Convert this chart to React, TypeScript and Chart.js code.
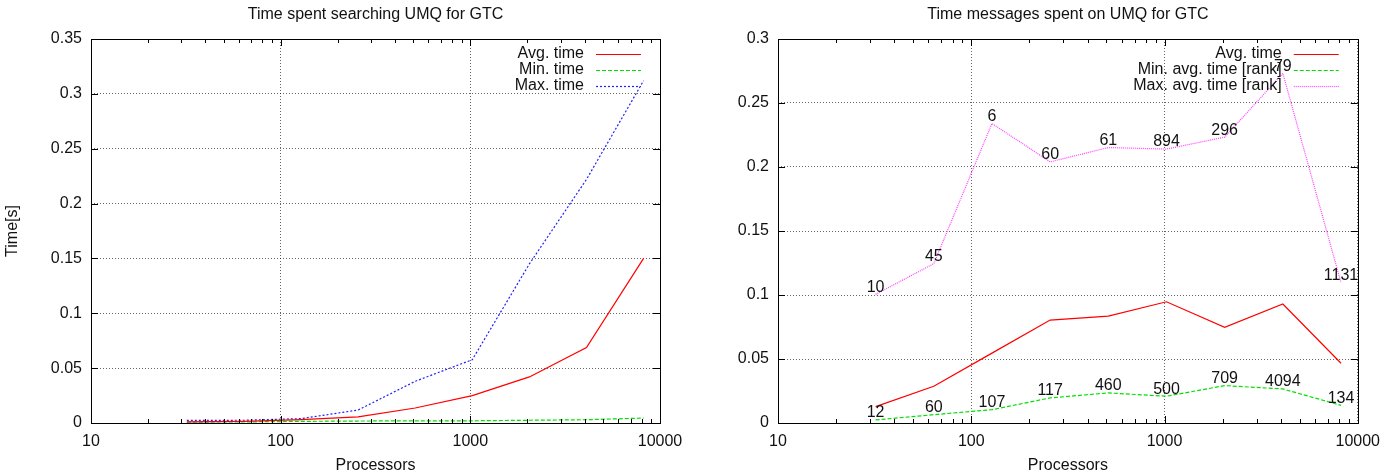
import React, { useEffect, useRef } from "react";
import { Chart, registerables } from "chart.js";

Chart.register(...registerables);

// ---------- data ----------
const processors = [32, 64, 128, 256, 512, 1024, 2048, 4096, 8192];

const searchAvg = [0.001, 0.0015, 0.003, 0.0055, 0.0137, 0.025, 0.042, 0.0687, 0.15];
const searchMin = [0.0008, 0.001, 0.0015, 0.0018, 0.002, 0.002, 0.0025, 0.003, 0.0045];
const searchMax = [0.0024, 0.0025, 0.004, 0.0118, 0.038, 0.0577, 0.145, 0.222, 0.312];

const umqAvg = [0.0128, 0.0287, 0.0546, 0.0804, 0.0835, 0.0947, 0.0747, 0.093, 0.0467];
const umqMin = [0.0024, 0.0065, 0.0104, 0.0196, 0.0235, 0.0209, 0.0292, 0.0266, 0.0138];
const umqMax = [0.1005, 0.1245, 0.2340, 0.2040, 0.2152, 0.2140, 0.2233, 0.2731, 0.1096];

const umqMinRanks = ["12", "60", "107", "117", "460", "500", "709", "4094", "134"];
const umqMaxRanks = ["10", "45", "6", "60", "61", "894", "296", "79", "1131"];

const xTickValues = [10, 100, 1000, 10000];
const xTickLabels = ["10", "100", "1000", "10000"];

const searchYTicks = [0, 0.05, 0.1, 0.15, 0.2, 0.25, 0.3, 0.35];
const searchYLabels = ["0", "0.05", "0.1", "0.15", "0.2", "0.25", "0.3", "0.35"];
const umqYTicks = [0, 0.05, 0.1, 0.15, 0.2, 0.25, 0.3];
const umqYLabels = ["0", "0.05", "0.1", "0.15", "0.2", "0.25", "0.3"];

// ---------- style ----------
const FONT = "'Liberation Sans', Arial, Helvetica, sans-serif";
const FS = 16;
const TEXT = "#111";

const px = (v: number) => Math.round(v) + 0.5;

const gnuplotPlugin = {
  id: "gnuplotDecor",
  afterDatasetsDraw(chart: any) {
    const ctx = chart.ctx;
    const { left, right, top } = chart.chartArea;
    ctx.save();
    // legend
    ctx.font = `${FS}px ${FONT}`;
    ctx.fillStyle = TEXT;
    ctx.textAlign = "right";
    ctx.textBaseline = "middle";
    chart.data.datasets.forEach((ds: any, i: number) => {
      const ly = top + 14.5 + 16 * i;
      ctx.fillText(ds.label, right - 76, ly + 0.5);
      ctx.save();
      ctx.strokeStyle = ds.borderColor;
      ctx.lineWidth = ds.borderWidth;
      ctx.setLineDash(ds.borderDash || []);
      ctx.beginPath();
      ctx.moveTo(right - 64, px(ly));
      ctx.lineTo(right - 19, px(ly));
      ctx.stroke();
      ctx.restore();
    });
    // point labels (ranks)
    ctx.textAlign = "center";
    ctx.textBaseline = "middle";
    chart.data.datasets.forEach((ds: any, i: number) => {
      if (!ds.ranks) return;
      const meta = chart.getDatasetMeta(i);
      meta.data.forEach((pt: any, j: number) => {
        ctx.fillText(ds.ranks[j], pt.x, pt.y - 7);
      });
    });
    ctx.restore();
  },
  afterDraw(chart: any) {
    const ctx = chart.ctx;
    const { left, right, top, bottom } = chart.chartArea;
    const xs = chart.scales.x;
    const ys = chart.scales.y;
    ctx.save();
    // title
    const title = chart.options.plugins.gnuplotDecor?.title;
    if (title) {
      ctx.font = `${FS}px ${FONT}`;
      ctx.fillStyle = TEXT;
      ctx.textAlign = "center";
      ctx.textBaseline = "middle";
      ctx.fillText(title, (left + right) / 2, 15);
    }
    // frame
    ctx.strokeStyle = "#000";
    ctx.lineWidth = 1;
    ctx.setLineDash([]);
    ctx.strokeRect(px(left), px(top), Math.round(right) - Math.round(left), Math.round(bottom) - Math.round(top));
    // x ticks (log: majors and minors), inward on bottom and top
    ctx.beginPath();
    const e0 = Math.floor(Math.log10(xs.min));
    const e1 = Math.ceil(Math.log10(xs.max));
    for (let e = e0; e <= e1; e++) {
      for (let k = 1; k <= 9; k++) {
        const v = k * Math.pow(10, e);
        if (v < xs.min - 1e-9 || v > xs.max + 1e-9) continue;
        const x = px(xs.getPixelForValue(v));
        const len = k === 1 ? 7 : 4;
        ctx.moveTo(x, bottom);
        ctx.lineTo(x, bottom - len);
        ctx.moveTo(x, top);
        ctx.lineTo(x, top + len);
      }
    }
    // y ticks, inward on left and right
    ys.ticks.forEach((t: any) => {
      const y = px(ys.getPixelForValue(t.value));
      ctx.moveTo(left, y);
      ctx.lineTo(left + 7, y);
      ctx.moveTo(right, y);
      ctx.lineTo(right - 7, y);
    });
    ctx.stroke();
    ctx.restore();
  },
};

function series(label: string, vals: number[], color: string, dash: number[], ranks?: string[]) {
  return {
    label,
    data: processors.map((x, i) => ({ x, y: vals[i] })),
    borderColor: color,
    borderDash: dash,
    borderWidth: 1.2,
    pointRadius: 0,
    pointHoverRadius: 0,
    fill: false,
    tension: 0,
    ranks,
  };
}

function makeConfig(opts: {
  title: string;
  yTitle?: string;
  yTicks: number[];
  yLabels: string[];
  yMax: number;
  yWidth: number;
  padRight: number;
  datasets: any[];
}): any {
  const font = { family: FONT, size: FS };
  return {
    type: "line",
    data: { datasets: opts.datasets },
    plugins: [gnuplotPlugin],
    options: {
      responsive: false,
      animation: false,
      events: [],
      layout: { padding: { top: 39, left: 0, right: opts.padRight, bottom: 0 } },
      plugins: {
        legend: { display: false },
        title: { display: false },
        tooltip: { enabled: false },
        gnuplotDecor: { title: opts.title },
      },
      scales: {
        x: {
          type: "logarithmic",
          min: 10,
          max: 10000,
          afterBuildTicks: (s: any) => {
            s.ticks = xTickValues.map((v) => ({ value: v }));
          },
          afterFit: (s: any) => {
            s.height = 49;
          },
          ticks: {
            autoSkip: false,
            maxRotation: 0,
            minRotation: 0,
            padding: 9,
            color: TEXT,
            font,
            callback: (_v: any, i: number) => xTickLabels[i],
          },
          grid: { color: "rgba(0,0,0,0.6)", lineWidth: 1, drawTicks: false },
          border: { display: false, dash: [1, 2] },
          title: {
            display: true,
            text: "Processors",
            color: TEXT,
            font: { family: FONT, size: FS, lineHeight: 0.8 },
            padding: { top: 0, bottom: 0 },
          },
        },
        y: {
          type: "linear",
          min: 0,
          max: opts.yMax,
          afterBuildTicks: (s: any) => {
            s.ticks = opts.yTicks.map((v) => ({ value: v }));
          },
          afterFit: (s: any) => {
            s.width = opts.yWidth;
          },
          ticks: {
            autoSkip: false,
            padding: 9,
            color: TEXT,
            font,
            callback: (_v: any, i: number) => opts.yLabels[i],
          },
          grid: { color: "rgba(0,0,0,0.6)", lineWidth: 1, drawTicks: false },
          border: { display: false, dash: [1, 2] },
          title: {
            display: !!opts.yTitle,
            text: opts.yTitle || "",
            color: TEXT,
            font,
            padding: { top: 3, bottom: 0 },
          },
        },
      },
    },
  };
}

function ChartCanvas({ config, width, height }: { config: any; width: number; height: number }) {
  const ref = useRef<HTMLCanvasElement | null>(null);
  useEffect(() => {
    if (!ref.current) return;
    const chart = new Chart(ref.current, config);
    return () => chart.destroy();
  }, [config]);
  return <canvas ref={ref} width={width} height={height} style={{ width, height, display: "block" }} />;
}

const leftConfig = makeConfig({
  title: "Time spent searching UMQ for GTC",
  yTitle: "Time[s]",
  yTicks: searchYTicks,
  yLabels: searchYLabels,
  yMax: 0.35,
  yWidth: 91,
  padRight: 34,
  datasets: [
    series("Avg. time", searchAvg, "#ff0000", []),
    series("Min. time", searchMin, "#00e000", [4, 2]),
    series("Max. time", searchMax, "#2020ff", [2, 2]),
  ],
});

const rightConfig = makeConfig({
  title: "Time messages spent on UMQ for GTC",
  yTicks: umqYTicks,
  yLabels: umqYLabels,
  yMax: 0.3,
  yWidth: 84,
  padRight: 26,
  datasets: [
    series("Avg. time", umqAvg, "#ff0000", []),
    series("Min. avg. time [rank]", umqMin, "#00e000", [4, 2], umqMinRanks),
    series("Max. avg. time [rank]", umqMax, "#ff40ff", [1, 1], umqMaxRanks),
  ],
});

export default function App() {
  return (
    <div style={{ position: "fixed", left: 0, top: 0, width: 1389, height: 472, background: "#fff" }}>
      <div style={{ position: "absolute", left: 0, top: 0 }}>
        <ChartCanvas config={leftConfig} width={694} height={472} />
      </div>
      <div style={{ position: "absolute", left: 694, top: 0 }}>
        <ChartCanvas config={rightConfig} width={695} height={472} />
      </div>
    </div>
  );
}
